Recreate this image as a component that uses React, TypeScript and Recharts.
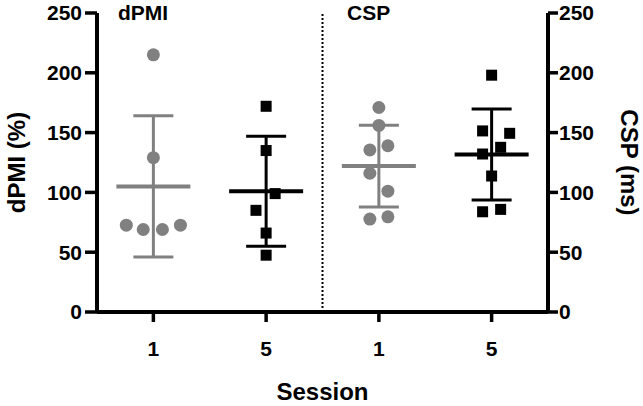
import React from 'react'
import { ScatterChart, Scatter, XAxis, YAxis, ErrorBar, ReferenceLine } from 'recharts'

const sessionLabels = ['1', '5', '1', '5']
const yTicks = [0, 50, 100, 150, 200, 250]

// dPMI (%), left panel
const dpmiSession1 = [215, 129, 72.6, 69, 69, 72.6]
const dpmiSession1Jitter = [0, 0, -0.24, -0.09, 0.08, 0.24]
const dpmiSession5 = [172, 135, 99, 85, 66, 47.5]
const dpmiSession5Jitter = [0, 0, 0.08, -0.09, 0, 0]

// CSP (ms), right panel
const cspSession1 = [171, 156, 135.5, 139, 116, 101, 77.7, 79.6]
const cspSession1Jitter = [0, 0, -0.08, 0.08, -0.08, 0.08, -0.08, 0.08]
const cspSession5 = [198, 151.4, 149.4, 137.7, 132.1, 113.7, 83.8, 85.8]
const cspSession5Jitter = [0, -0.08, 0.16, 0.08, -0.08, 0, -0.08, 0.08]

// mean +/- SD per group
const groupMeans = [105, 101, 122, 131.7]
const groupSD = [59, 46, 34.2, 38]

const GRAY = '#808080'
const BLACK = '#000000'
const FONT = '"Liberation Sans", Arial, sans-serif'

const toPoints = (vals: number[], jitter: number[], group: number) =>
  vals.map((y, i) => ({ x: group + jitter[i], y }))

const groupColors = [GRAY, BLACK, GRAY, BLACK]

const Dot = (color: string) => (p: any) => <circle cx={p.cx} cy={p.cy} r={6.5} fill={color} />
const Square = (color: string) => (p: any) => (
  <rect x={p.cx - 5.5} y={p.cy - 5.5} width={11} height={11} fill={color} />
)
const MeanLine = (color: string) => (p: any) => (
  <line x1={p.cx - 37} x2={p.cx + 37} y1={p.cy} y2={p.cy} stroke={color} strokeWidth={4} />
)

const tickStyle = { fontFamily: FONT, fontSize: 21, fontWeight: 'bold', fill: '#000' }
const titleStyle = { fontFamily: FONT, fontSize: 24, fontWeight: 'bold', fill: '#000' }
const panelTitle = { position: 'absolute' as const, top: 2, fontFamily: FONT, fontSize: 21, fontWeight: 'bold', lineHeight: '22px' }

export default function App() {
  const series = [
    { pts: toPoints(dpmiSession1, dpmiSession1Jitter, 1), axis: 'left', shape: Dot(GRAY) },
    { pts: toPoints(dpmiSession5, dpmiSession5Jitter, 2), axis: 'left', shape: Square(BLACK) },
    { pts: toPoints(cspSession1, cspSession1Jitter, 3), axis: 'right', shape: Dot(GRAY) },
    { pts: toPoints(cspSession5, cspSession5Jitter, 4), axis: 'right', shape: Square(BLACK) },
  ]
  return (
    <div style={{ position: 'absolute', left: 0, top: 0, width: 643, height: 406 }}>
      <ScatterChart width={643} height={406} margin={{ top: 13, right: 0, left: 0, bottom: 0 }}>
        <XAxis
          type="number"
          dataKey="x"
          domain={[0.5, 4.5]}
          ticks={[1, 2, 3, 4]}
          allowDataOverflow
          tickFormatter={(v: number) => sessionLabels[v - 1]}
          height={94}
          tickSize={10}
          tickMargin={19}
          axisLine={{ stroke: '#000', strokeWidth: 4 }}
          tickLine={{ stroke: '#000', strokeWidth: 3.5 }}
          tick={tickStyle}
          label={{ value: 'Session', position: 'insideBottom', offset: 6, style: titleStyle }}
        />
        <YAxis
          yAxisId="left"
          dataKey="y"
          type="number"
          domain={[0, 250]}
          ticks={yTicks}
          interval={0}
          width={97}
          tickSize={12}
          tickMargin={3}
          axisLine={{ stroke: '#000', strokeWidth: 4 }}
          tickLine={{ stroke: '#000', strokeWidth: 3.5 }}
          tick={tickStyle}
          label={{
            value: 'dPMI (%)',
            angle: -90,
            position: 'insideLeft',
            offset: 16,
            style: { ...titleStyle, textAnchor: 'middle' },
          }}
        />
        <YAxis
          yAxisId="right"
          orientation="right"
          dataKey="y"
          type="number"
          domain={[0, 250]}
          ticks={yTicks}
          interval={0}
          width={95}
          tickSize={10}
          tickMargin={1}
          axisLine={{ stroke: '#000', strokeWidth: 4 }}
          tickLine={{ stroke: '#000', strokeWidth: 3.5 }}
          tick={tickStyle}
          label={{
            value: 'CSP (ms)',
            angle: 90,
            position: 'insideRight',
            offset: 13,
            style: { ...titleStyle, textAnchor: 'middle' },
          }}
        />
        <ReferenceLine
          yAxisId="left"
          x={2.5}
          stroke="#000"
          strokeWidth={2}
          strokeDasharray="2 2"
        />
        {groupMeans.map((m, i) => (
          <Scatter
            key={'mean' + i}
            yAxisId={i < 2 ? 'left' : 'right'}
            data={[{ x: i + 1, y: m, sd: groupSD[i] }]}
            shape={MeanLine(groupColors[i])}
            isAnimationActive={false}
          >
            <ErrorBar
              dataKey="sd"
              direction="y"
              width={20}
              stroke={groupColors[i]}
              strokeWidth={3}
              isAnimationActive={false}
            />
          </Scatter>
        ))}
        {series.map((s, i) => (
          <Scatter
            key={'pts' + i}
            yAxisId={s.axis}
            data={s.pts}
            shape={s.shape}
            isAnimationActive={false}
          />
        ))}
      </ScatterChart>
      <div style={{ ...panelTitle, left: 118 }}>dPMI</div>
      <div style={{ ...panelTitle, left: 347 }}>CSP</div>
    </div>
  )
}
